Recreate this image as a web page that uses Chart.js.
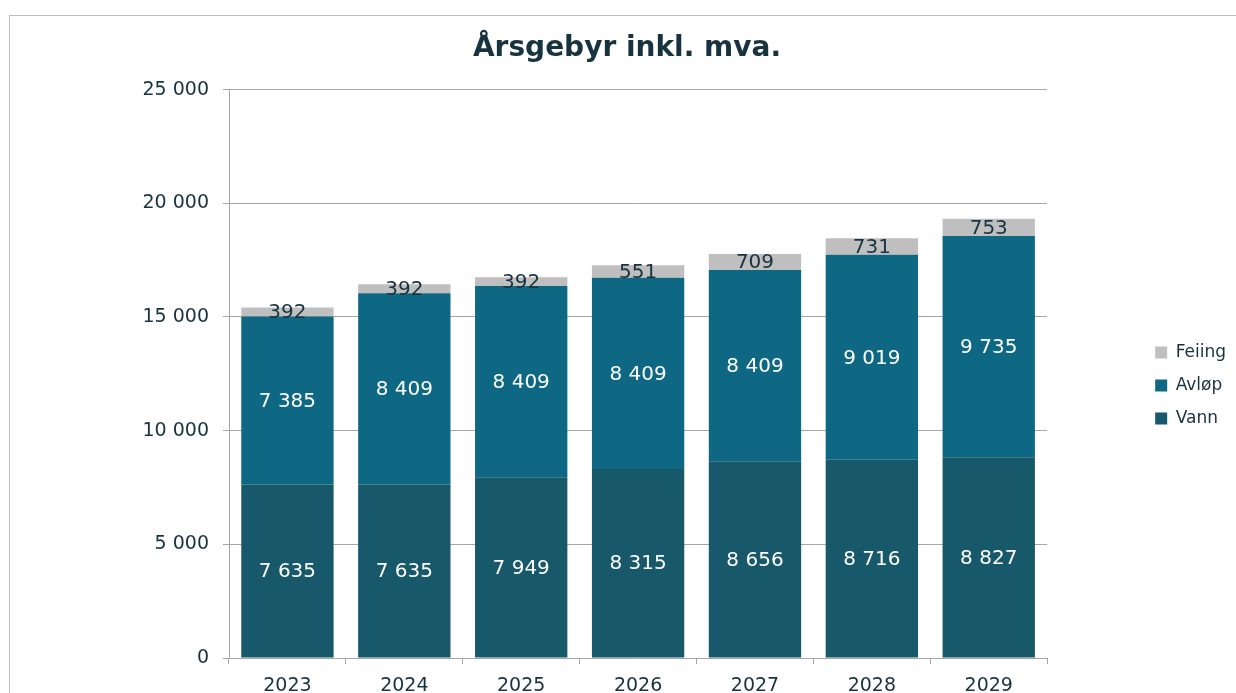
<!DOCTYPE html>
<html>
<head>
<meta charset="utf-8">
<script src="https://cdn.jsdelivr.net/npm/chart.js@4"></script>
<style>
html, body { margin: 0; padding: 0; background: #fff; overflow: hidden; }
#frame { position: absolute; left: 9px; top: 15px; width: 1400px; height: 800px; border: 1px solid #bdbdbd; }
#wrap { position: absolute; left: 0; top: 0; width: 1236px; height: 693px; }
</style>
</head>
<body>
<div id="frame"></div>
<div id="wrap"><canvas id="feeChart" width="1236" height="693"></canvas></div>
<script>
const years = ['2023', '2024', '2025', '2026', '2027', '2028', '2029'];
const vann = [7635, 7635, 7949, 8315, 8656, 8716, 8827];
const avlop = [7385, 8409, 8409, 8409, 8409, 9019, 9735];
const feiing = [392, 392, 392, 551, 709, 731, 753];
const yMax = 25000;
const yStep = 5000;

const textColor = '#17333f';
const gridColor = '#a6a6a6';
const fontFamily = '"DejaVu Sans", Verdana, sans-serif';

function fmt(v) {
    return String(v).replace(/\B(?=(\d{3})+(?!\d))/g, ' ');
}

// draws the value in the middle of every stacked segment
const segmentLabels = {
    id: 'segmentLabels',
    afterDatasetsDraw(chart) {
        let ctx = chart.ctx;
        ctx.save();
        ctx.font = '20px ' + fontFamily;
        ctx.textAlign = 'center';
        ctx.textBaseline = 'middle';
        chart.data.datasets.forEach((ds, i) => {
            let meta = chart.getDatasetMeta(i);
            meta.data.forEach((bar, j) => {
                ctx.fillStyle = ds.labelColor;
                ctx.fillText(fmt(ds.data[j]), bar.x, (bar.y + bar.base) / 2 + 1);
            });
        });
        ctx.restore();
    }
};

let config = {
    type: 'bar',
    data: {
        labels: years,
        datasets: [
            { label: 'Vann', data: vann, backgroundColor: '#17586a', labelColor: '#ffffff' },
            { label: 'Avløp', data: avlop, backgroundColor: '#0e6884', labelColor: '#ffffff' },
            { label: 'Feiing', data: feiing, backgroundColor: '#bfbfbf', labelColor: textColor }
        ]
    },
    options: {
        responsive: false,
        animation: false,
        events: [],
        datasets: {
            bar: { categoryPercentage: 1, barPercentage: 0.79 }
        },
        layout: { padding: { left: 18, right: 0, top: 0, bottom: 0 } },
        plugins: {
            title: {
                display: true,
                text: 'Årsgebyr inkl. mva.',
                color: textColor,
                font: { family: fontFamily, size: 28, weight: 'bold' },
                padding: { top: 32, bottom: 24 }
            },
            legend: {
                position: 'right',
                reverse: true,
                title: {
                    display: true,
                    text: ' ',
                    font: { size: 5 },
                    padding: { top: 72, bottom: 0 }
                },
                labels: {
                    color: textColor,
                    boxWidth: 12,
                    boxHeight: 12,
                    padding: 16,
                    font: { family: fontFamily, size: 17 }
                }
            },
            tooltip: { enabled: false }
        },
        scales: {
            x: {
                stacked: true,
                grid: { offset: true, drawOnChartArea: false, tickLength: 6, color: gridColor },
                border: { color: gridColor },
                ticks: { color: textColor, font: { family: fontFamily, size: 19 }, padding: 11 },
                afterFit: s => { s.height = 35; }
            },
            y: {
                stacked: true,
                min: 0,
                max: yMax,
                ticks: {
                    stepSize: yStep,
                    color: textColor,
                    font: { family: fontFamily, size: 19 },
                    padding: 14,
                    callback: v => fmt(v)
                },
                grid: { color: gridColor, tickLength: 6, tickColor: gridColor },
                border: { color: gridColor },
                afterFit: s => { s.width = 211; }
            },
            gap: {
                type: 'linear',
                position: 'right',
                grid: { display: false },
                border: { display: false },
                ticks: { display: false },
                afterFit: s => { s.width = 92; }
            }
        }
    },
    plugins: [segmentLabels]
};

new Chart(document.getElementById('feeChart'), config);
</script>
</body>
</html>
